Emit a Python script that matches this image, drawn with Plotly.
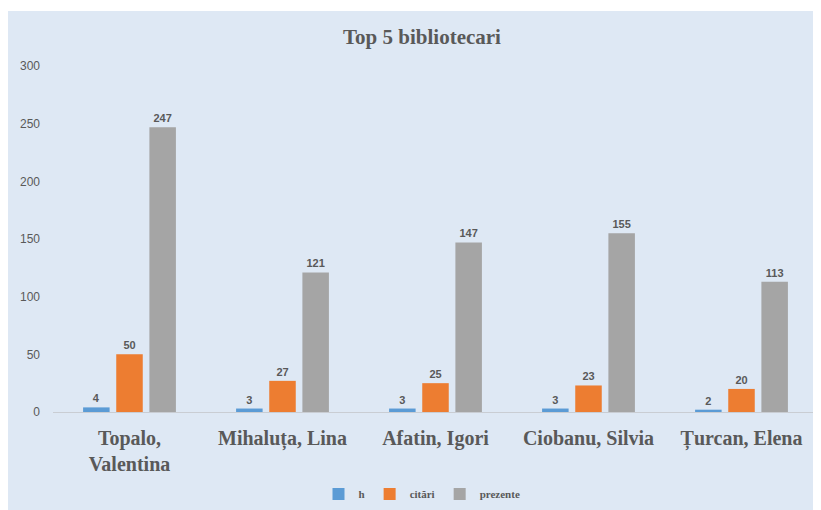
import plotly.graph_objects as go

categories = ["Topalo,<br>Valentina", "Mihaluța, Lina", "Afatin, Igori", "Ciobanu, Silvia", "Țurcan, Elena"]
h_vals = [4, 3, 3, 3, 2]
citari_vals = [50, 27, 25, 23, 20]
prezente_vals = [247, 121, 147, 155, 113]
y_ticks = [0, 50, 100, 150, 200, 250, 300]

# page body has an 8px margin; figure sized so it ends at the window edge
W, H = 813, 502
OFF = 8
L, R, T, B = 53 - OFF, 3, 66 - OFF, 98
BG = "#DEE8F4"
TXT = "#595959"
label_font = dict(family="Liberation Sans, Arial", size=11, color=TXT, weight="bold")

fig = go.Figure()
for name, vals, col in [("h", h_vals, "#5B9BD5"), ("citări", citari_vals, "#ED7D31"), ("prezente", prezente_vals, "#A5A5A5")]:
    fig.add_trace(go.Bar(
        x=categories, y=vals, name=name, marker_color=col, marker_line_width=0,
        text=[str(v) for v in vals], textposition="outside", textfont=label_font,
        cliponaxis=False,
    ))

plot_w = W - L - R
plot_h = H - T - B

fig.update_layout(
    width=W, height=H,
    margin=dict(l=L, r=R, t=T, b=B),
    paper_bgcolor=BG, plot_bgcolor="rgba(0,0,0,0)",
    barmode="group", bargap=0.35, bargroupgap=0.2,
    title=dict(text="Top 5 bibliotecari", x=(422 - OFF) / W, xanchor="center", xref="container",
               y=1 - (37 - OFF) / H, yanchor="middle", yref="container",
               font=dict(family="Liberation Serif, Times New Roman", size=21, color=TXT, weight="bold")),
    showlegend=True,
    legend=dict(orientation="h", x=(422 - OFF) / W, xref="container", xanchor="center",
                y=1 - (494 - OFF) / H, yref="container", yanchor="middle",
                font=dict(family="Liberation Serif, Times New Roman", size=11, color=TXT, weight="bold"),
                itemwidth=30, bgcolor="rgba(0,0,0,0)"),
    xaxis=dict(showline=True, linecolor="#C9CDD3", linewidth=1, ticks="",
               tickfont=dict(family="Liberation Serif, Times New Roman", size=20, color=TXT, weight="bold"),
               ticklabelstandoff=8, showgrid=False),
    yaxis=dict(range=[0, 300], tickvals=y_ticks, showgrid=False, zeroline=False, showline=False,
               tickfont=dict(family="Liberation Sans, Arial", size=12, color=TXT),
               ticklabelstandoff=12),
)
# thin white strip on top edge (reference blue area starts slightly lower)
fig.add_shape(type="rect", xref="paper", yref="paper",
              x0=-L / plot_w - 0.01, x1=1 + R / plot_w + 0.01,
              y0=1 + (T - 3) / plot_h, y1=1 + T / plot_h + 0.01,
              fillcolor="white", line_width=0, layer="above")

fig.write_html("out.html")
